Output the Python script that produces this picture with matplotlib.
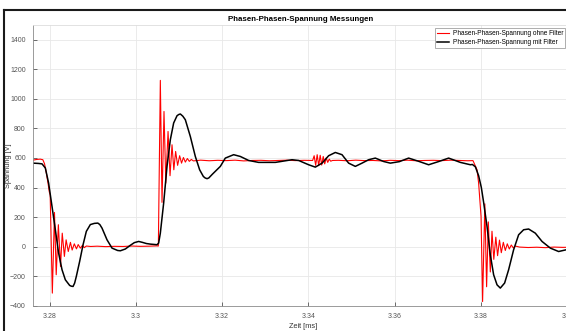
import matplotlib.pyplot as plt
from matplotlib.lines import Line2D

plt.rcParams['font.family'] = ['Liberation Sans', 'DejaVu Sans']

# Phasen-Phasen-Spannung ohne Filter (Zeit in ms, Spannung in V)
t_ohne = [3.2761, 3.2770, 3.2778, 3.2784, 3.2788, 3.2792, 3.2796, 3.2799, 3.2801,
          3.2806, 3.2811, 3.2815, 3.2820, 3.2825, 3.2829, 3.2834, 3.2838, 3.2843,
          3.2848, 3.2852, 3.2857, 3.2862, 3.2866, 3.2871, 3.2876, 3.2880, 3.2885,
          3.2895, 3.2910, 3.2930, 3.2950, 3.2970, 3.2990, 3.3010, 3.3030, 3.3048,
          3.3052, 3.30566, 3.30605, 3.30651, 3.30693, 3.30745, 3.30791, 3.30837,
          3.30879, 3.30921, 3.30967, 3.31014, 3.31058, 3.31102, 3.31146, 3.31193,
          3.31239, 3.31285, 3.31332,
          3.3150, 3.3170, 3.3190, 3.3210, 3.3230, 3.3250, 3.3270, 3.3290, 3.3310,
          3.3330, 3.3350, 3.3370, 3.3390, 3.3410,
          3.34135, 3.3417, 3.34205, 3.3424, 3.34275, 3.3431, 3.34345, 3.3438,
          3.34415, 3.3445, 3.34485, 3.3452, 3.3456,
          3.3470, 3.3490, 3.3510, 3.3530, 3.3550, 3.3570, 3.3590, 3.3610, 3.3630,
          3.3650, 3.3670, 3.3690, 3.3710, 3.3730, 3.3750, 3.3770, 3.3782,
          3.37914, 3.37951, 3.38007, 3.38043, 3.38095, 3.38136, 3.38176, 3.38222,
          3.38261, 3.38303, 3.38350, 3.38391, 3.38435, 3.38477, 3.38524, 3.38570,
          3.38616, 3.38663, 3.38709, 3.38756, 3.38802,
          3.3890, 3.3910, 3.3930, 3.3950, 3.3970, 3.3990, 3.4010]
u_ohne = [585, 590, 592, 588, 560, 500, 430, 370, 350,
          -313, 232, -189, 149, -133, 92, -65, 47, -32,
          30, -22, 20, -14, 15, -9, 10, -6, 5,
          2, 4, 1, 3, 2, 5, 3, 4, 6,
          5, 1124, 300, 914, 430, 779, 480, 689,
          520, 644, 550, 615, 565, 603, 572, 596,
          577, 590, 580,
          585, 581, 584, 582, 585, 580, 583, 584, 581,
          583, 585, 582, 584, 583,
          615, 550, 622, 548, 618, 552, 610, 560,
          600, 570, 592, 578, 583,
          584, 581, 585, 582, 583, 580, 584, 582, 585,
          581, 583, 584, 582, 585, 583, 581, 582,
          520, 430, 205, -370, 290, -270, 168, -170,
          105, -85, 65, -60, 45, -40, 30, -25,
          20, -15, 12, -8, 5,
          -2, -5, -3, -6, -2, -4, -3]

# Phasen-Phasen-Spannung mit Filter
t_mit = [3.27608, 3.27735, 3.27821, 3.27898, 3.27974, 3.28053, 3.2813, 3.28206,
         3.28285, 3.28362, 3.28462, 3.28499, 3.28541, 3.28578, 3.28617, 3.28694,
         3.28773, 3.28849, 3.28942, 3.29035, 3.29116, 3.29162, 3.29213, 3.29329,
         3.29445, 3.29575, 3.29638, 3.29754, 3.2987, 3.29963, 3.30063, 3.30148,
         3.30241, 3.30334, 3.30489, 3.30527, 3.30566, 3.30643, 3.30721, 3.30798,
         3.30875, 3.30953, 3.30991, 3.3103, 3.31088, 3.31146, 3.31262, 3.31378,
         3.31478, 3.31564, 3.31605, 3.3165, 3.31691, 3.31773, 3.31958, 3.32074,
         3.32267, 3.32422, 3.32615, 3.32847, 3.33234, 3.33622, 3.33775, 3.34007,
         3.34162, 3.34318, 3.34471, 3.34626, 3.34781, 3.34935, 3.3509, 3.35246,
         3.35399, 3.35554, 3.35747, 3.35902, 3.36111, 3.36327, 3.36552, 3.36791,
         3.37016, 3.37255, 3.37527, 3.3776, 3.37806, 3.37876, 3.37951, 3.38014,
         3.38067, 3.38146, 3.38222, 3.38299, 3.38378, 3.38454, 3.38554, 3.38647,
         3.38763, 3.38879, 3.38995, 3.39111, 3.39266, 3.39422, 3.39615, 3.39807,
         3.39986, 3.4012]
u_mit = [565, 563, 560, 532, 430, 272, 115, -43,
         -155, -223, -261, -266, -268, -245, -200, -99,
         14, 104, 150, 158, 160, 150, 126, 47,
         -9, -25, -27, -15, 10, 28, 36, 30,
         22, 18, 14, 25, 92, 295, 543, 723,
         836, 885, 893, 897, 882, 858, 745, 610,
         520, 475, 465, 460, 465, 490, 543, 599,
         622, 610, 583, 570, 570, 588, 583, 554,
         538, 565, 615, 637, 622, 565, 543, 565,
         588, 599, 576, 565, 575, 599, 578, 554,
         575, 599, 570, 554, 556, 540, 480, 400,
         300, 137, -54, -189, -257, -279, -245, -155,
         -20, 81, 115, 120, 92, 36, -9, -32,
         -20, -15]

x_ticks = [3.28, 3.30, 3.32, 3.34, 3.36, 3.38, 3.40]
x_tick_labels = ['3.28', '3.3', '3.32', '3.34', '3.36', '3.38', '3.4']
y_ticks = [-400, -200, 0, 200, 400, 600, 800, 1000, 1200, 1400]

W, H = 566, 331
fig = plt.figure(figsize=(W / 100, H / 100), dpi=100)
ax = fig.add_axes([32.5 / W, 25 / H, 538.75 / W, 281.3 / H])

ax.plot(t_ohne, u_ohne, color='#ff0000', lw=0.8,
        label='Phasen-Phasen-Spannung ohne Filter')
ax.plot(t_mit, u_mit, color='black', lw=1.1,
        label='Phasen-Phasen-Spannung mit Filter')

ax.set_xlim(3.276, 3.401)
ax.set_ylim(-400, 1500)
ax.set_xticks(x_ticks, x_tick_labels)
ax.set_yticks(y_ticks)
ax.grid(True, color='#e8e8e8', lw=0.6)
ax.set_axisbelow(True)
ax.tick_params(direction='in', length=3, width=0.6, colors='#555555',
               labelsize=5, pad=4.8)
for side in ['left', 'bottom']:
    ax.spines[side].set_color('#8a8a8a')
    ax.spines[side].set_linewidth(0.6)
for side in ['top', 'right']:
    ax.spines[side].set_color('#dddddd')
    ax.spines[side].set_linewidth(0.6)

fig.text(300.8 / W, 1 - 19.9 / H, 'Phasen-Phasen-Spannung Messungen',
         ha='center', va='center', fontsize=5.7, fontweight='bold')
fig.text(303 / W, 1 - 327 / H, 'Zeit [ms]', ha='center', va='center',
         fontsize=5.3, color='#333333')
fig.text(8.5 / W, 1 - 166 / H, 'Spannung [V]', ha='center', va='center',
         rotation=90, fontsize=5.3, color='#333333')

leg = ax.legend(loc='upper right', bbox_to_anchor=(565 / W, 1 - 28.3 / H),
                bbox_transform=fig.transFigure, fontsize=4.7, fancybox=False,
                edgecolor='#a0a0a0', framealpha=1, borderaxespad=0,
                handlelength=1.9, handletextpad=0.5, borderpad=0.3,
                labelspacing=0.3)
leg.get_frame().set_linewidth(0.6)

# dark frame of the screenshot (left and top)
fig.add_artist(Line2D([4 / W, 4 / W], [0, 1 - 9.7 / H], transform=fig.transFigure,
                      color='#1a1a1a', lw=1.5))
fig.add_artist(Line2D([4 / W, 1], [1 - 9.7 / H, 1 - 9.7 / H],
                      transform=fig.transFigure, color='#1a1a1a', lw=1.5))

fig.savefig('out.png', dpi=100)
